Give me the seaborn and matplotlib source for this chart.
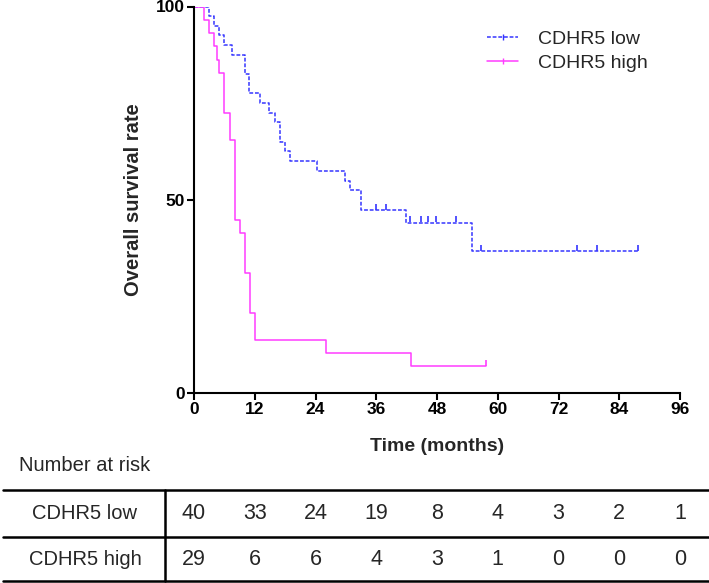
import numpy as np
import pandas as pd
import matplotlib
matplotlib.use('Agg')
import matplotlib.pyplot as plt
from matplotlib.lines import Line2D
import seaborn as sns

# ---- data ----
low_time = [0, 3.0, 4.0, 5.0, 5.9, 7.5, 10.1, 10.9, 13.0, 14.9, 16.0, 17.0, 17.9, 18.9,
            24.3, 29.8, 30.9, 33.0, 41.8, 54.9, 87.8]
low_surv = [100, 97.5, 95.0, 92.5, 90.0, 87.5, 82.5, 77.5, 75.0, 72.5, 70.0, 65.0, 62.5, 60.0,
            57.4, 54.8, 52.4, 47.3, 44.1, 36.7, 36.7]
low_censor = [36.0, 37.9, 42.6, 44.8, 46.2, 47.9, 51.8, 56.7, 75.7, 79.6, 87.8]

high_time = [0, 2.0, 3.0, 3.9, 4.6, 5.0, 5.9, 7.1, 8.1, 9.1, 10.1, 11.0, 12.0, 26.0, 42.9, 57.7]
high_surv = [100, 96.6, 93.1, 89.7, 86.2, 82.8, 72.4, 65.5, 44.8, 41.4, 31.0, 20.7, 13.8, 10.3, 6.9, 6.9]
high_censor = [57.7]

groups = ['CDHR5 low', 'CDHR5 high']
colors = {'CDHR5 low': '#3535ff', 'CDHR5 high': '#ff3cff'}
risk_times = [0, 12, 24, 36, 48, 60, 72, 84, 96]
risk_low = [40, 33, 24, 19, 8, 4, 3, 2, 1]
risk_high = [29, 6, 6, 4, 3, 1, 0, 0, 0]
row_labels = ['CDHR5 low', 'CDHR5 high']

df = pd.concat([
    pd.DataFrame({'time': low_time, 'surv': low_surv, 'group': 'CDHR5 low'}),
    pd.DataFrame({'time': high_time, 'surv': high_surv, 'group': 'CDHR5 high'}),
], ignore_index=True)

sns.set_style('ticks')
plt.rcParams['font.family'] = ['Liberation Sans', 'DejaVu Sans']

fig = plt.figure(figsize=(7.09, 5.83), dpi=100)
W, H = 709, 583
ax = fig.add_axes([194 / W, 1 - 393 / H, (680 - 194) / W, (393 - 6.5) / H])

sns.lineplot(data=df, x='time', y='surv', hue='group', style='group', palette=colors,
             dashes={'CDHR5 low': (2.5, 1.2), 'CDHR5 high': ''}, drawstyle='steps-post',
             estimator=None, sort=False, lw=1.1, legend=False, ax=ax)

# censor ticks
def surv_at(times, survs, t):
    i = np.searchsorted(times, t, side='right') - 1
    return survs[i]

for g, tt, ss, cc in [('CDHR5 low', low_time, low_surv, low_censor),
                      ('CDHR5 high', high_time, high_surv, high_censor)]:
    ys = [surv_at(tt, ss, c) + 0.8 for c in cc]
    ax.plot(cc, ys, ls='none', marker='|', ms=4, mew=1.2, color=colors[g])

ax.set_xlim(0, 96)
ax.set_ylim(0, 100)
ax.set_xticks(risk_times)
ax.set_yticks([0, 50, 100])
sns.despine(ax=ax)
for s in ['left', 'bottom']:
    ax.spines[s].set_linewidth(1.5)
    ax.spines[s].set_color('black')
ax.tick_params(axis='both', length=5, width=1.5, colors='black', pad=1.5)
for lab in ax.get_xticklabels() + ax.get_yticklabels():
    lab.set_fontsize(12.5)
    lab.set_fontweight('bold')
ax.set_xlabel('Time (months)', fontsize=14, fontweight='bold', labelpad=15)
ax.set_ylabel('Overall survival rate', fontsize=14.5, fontweight='bold', labelpad=9)

handles = [Line2D([], [], color=colors['CDHR5 low'], lw=1.1, ls=(0, (2.5, 1.2)), marker='|', ms=4),
           Line2D([], [], color=colors['CDHR5 high'], lw=1.1, ls='-', marker='|', ms=4)]
fig.legend(handles, groups, loc='upper left', bbox_to_anchor=(487 / W, 1 - 30 / H),
           frameon=False, handlelength=1.6, handletextpad=1.0,
           labelspacing=0.35, borderpad=0, borderaxespad=0, numpoints=1,
           prop={'size': 14})

# ---- number at risk table ----
tab = fig.add_axes([194 / W, 0, (680 - 194) / W, (583 - 490) / H])
tab.set_xlim(0, 96)
tab.set_ylim(0, 1)
tab.axis('off')
x0 = (3 - 194) / 486
x1 = (709 - 194) / 486
for y in [1.0, 0.5, 0.02]:
    tab.axhline(y, xmin=x0, xmax=x1, color='black', lw=1.8, clip_on=False)
tab.plot([-29 / 486 * 96] * 2, [0.02, 1.0], color='black', lw=1.8, clip_on=False)

lab_x = (85 - 194) / 486
tab.text(lab_x, 1.26, 'Number at risk', transform=tab.transAxes, ha='center', va='center', fontsize=14.5)
for row_y, lab, vals in [(0.75, row_labels[0], risk_low), (0.25, row_labels[1], risk_high)]:
    tab.text(lab_x, row_y, lab, transform=tab.transAxes, ha='center', va='center', fontsize=14.5)
    for t, v in zip(risk_times, vals):
        tab.text(t, row_y, str(v), ha='center', va='center', fontsize=15.5)

fig.savefig('out.png', dpi=100)
